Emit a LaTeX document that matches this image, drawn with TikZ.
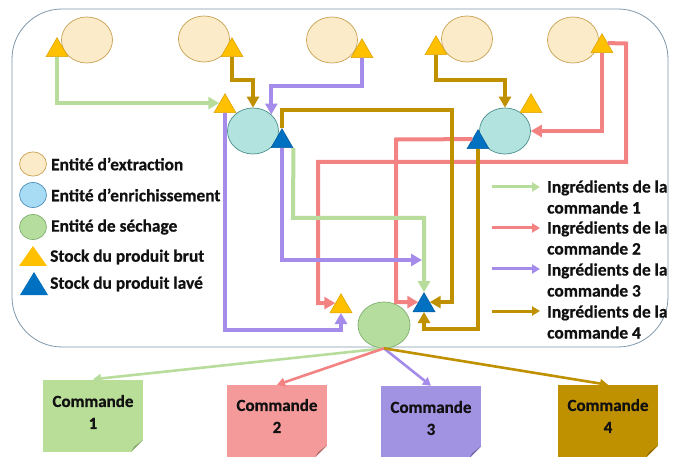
\documentclass[tikz,border=0pt]{standalone}
\usepackage{fontspec}
\setmainfont{Carlito}[BoldFeatures={FakeBold=0.6}]
\usetikzlibrary{shapes.geometric,arrows.meta,calc}
\definecolor{extf}{HTML}{FCEBC8}
\definecolor{extd}{HTML}{C8A050}
\definecolor{enrf}{HTML}{B3E3DE}
\definecolor{enrd}{HTML}{4A8E8C}
\definecolor{lenf}{HTML}{A8DCF5}
\definecolor{lend}{HTML}{4F8FB8}
\definecolor{secf}{HTML}{B5DE9E}
\definecolor{secd}{HTML}{7FAF6E}
\definecolor{yelf}{HTML}{FFC000}
\definecolor{yeld}{HTML}{D9A000}
\definecolor{bluf}{HTML}{0070C0}
\definecolor{blud}{HTML}{005A9E}
\definecolor{lgreen}{HTML}{B8DC9C}
\definecolor{lpink}{HTML}{F38383}
\definecolor{lpurp}{HTML}{A58CEB}
\definecolor{lgold}{HTML}{BF9000}
\definecolor{boxc}{HTML}{8098AA}
\definecolor{c1f}{HTML}{B8DE98}
\definecolor{c2f}{HTML}{F49A9A}
\definecolor{c3f}{HTML}{A292E2}
\definecolor{c4f}{HTML}{BF9000}
\definecolor{txt}{HTML}{111111}
\tikzset{
  extent/.style={ellipse, draw=extd, fill=extf, line width=0.7pt, minimum width=51, minimum height=46, inner sep=0},
  enrent/.style={ellipse, draw=enrd, fill=enrf, line width=0.7pt, minimum width=51, minimum height=46, inner sep=0},
  secent/.style={ellipse, draw=secd, fill=secf, line width=0.7pt, minimum width=52, minimum height=46, inner sep=0},
  ytri/.style={regular polygon, regular polygon sides=3, minimum size=25.4, inner sep=0, fill=yelf, draw=yeld, line width=0.5pt, anchor=side 2},
  btri/.style={regular polygon, regular polygon sides=3, minimum size=25.4, inner sep=0, fill=bluf, draw=blud, line width=0.5pt, anchor=side 2},
  conn/.style={line width=4pt, -{Triangle[length=11pt,width=12pt]}},
  legarr/.style={line width=3pt, -{Triangle[length=8pt,width=9pt]}},
  cmdarr/.style={line width=2.6pt, -{Triangle[length=8pt,width=9pt]}},
  cbox/.style={rectangle, minimum width=100, minimum height=72, inner sep=0},
  ctext/.style={align=center, text=txt, font=\bfseries\fontsize{17}{22}\selectfont},
  legtxt/.style={anchor=west, text=txt, align=left, inner sep=0, font=\bfseries\fontsize{17.4}{21}\selectfont},
}
\begin{document}
\begin{tikzpicture}[x=1pt,y=-1pt]
\useasboundingbox (0,0) rectangle (675,457);
\fill[white] (0,0) rectangle (675,457);
\draw[boxc, line width=0.8pt, rounded corners=50pt] (12,9) rectangle (668,347);

% extraction entities
\node[extent] (ex1) at (87,40) {};
\node[extent] (ex2) at (204,39) {};
\node[extent] (ex3) at (332,40) {};
\node[extent] (ex4) at (467,39) {};
\node[extent] (ex5) at (573,40) {};
% enrichment entities
\node[enrent] (e1) at (253,131) {};
\node[enrent] (e2) at (505,131) {};
% drying entity
\node[secent] (eD) at (384,325) {};

% stocks
\node[ytri] (t1) at (57,57) {};
\node[ytri] (t2) at (232,57) {};
\node[ytri] (t3) at (362,58) {};
\node[ytri] (t4) at (436,55) {};
\node[ytri] (t5) at (602,53) {};
\node[ytri] (ty1) at (225,113) {};
\node[btri] (tb1) at (282,148) {};
\node[ytri] (ty2) at (531,113) {};
\node[btri] (tb2) at (478,149) {};
\node[ytri] (tyD) at (341,313) {};
\node[btri] (tbD) at (424,312) {};

\coordinate (p3end) at (422,260);

% connectors
\draw[conn, lpink] (t5.side 3) -- (626,43.5) |- (318,162) |- (tyD.side 1);
\draw[conn, lpink] (t5.side 2) |- (e2.east);
\draw[conn, lpink] (tb2.side 1) -- (396,139.5) |- (tbD.side 1);
\draw[conn, lgreen] (t1.side 2) |- (ty1.side 1);
\draw[conn, lgreen] (tb1.corner 3) -- (293,218) -| (tbD.corner 1);
\draw[conn, lpurp] (t3.side 2) -- (362,86) -| (e1.42);
\draw[conn, lpurp] (tb1.side 2) |- (p3end);
\draw[conn, lpurp] (ty1.side 2) -- (225,330) -| (tyD.side 2);
\draw[conn, lgold] (t2.side 2) -- (232,80) -| (e1.north);
\draw[conn, lgold] (tb1.corner 1) -- (282,110) -- (452,110) |- (tbD.side 3);
\draw[conn, lgold] (t4.side 2) -- (436,80) -| (e2.north);
\draw[conn, lgold] (tb2.side 2) -- (478,329) -| (tbD.side 2);

% legend left
\node[ellipse, draw=extd, fill=extf, line width=0.7pt, minimum width=27, minimum height=24, inner sep=0] (lg1) at (33,164) {};
\node[ellipse, draw=lend, fill=lenf, line width=0.7pt, minimum width=27, minimum height=25, inner sep=0] (lg2) at (33,195) {};
\node[ellipse, draw=secd, fill=secf, line width=0.7pt, minimum width=27, minimum height=25, inner sep=0] (lg3) at (33,227) {};
\fill[yelf] (19,266) -- (47,266) -- (33,246) -- cycle;
\fill[bluf] (20,295) -- (48,295) -- (34,272) -- cycle;
\node[legtxt] (lt1) at (51,164) {Entité d’extraction};
\node[legtxt] (lt2) at (51,195) {Entité d’enrichissement};
\node[legtxt] (lt3) at (51,227) {Entité de séchage};
\node[legtxt] (lt4) at (50,257) {Stock du produit brut};
\node[legtxt] (lt5) at (50,284) {Stock du produit lavé};

% legend right
\coordinate (la1) at (492,187); \coordinate (lb1) at (540,187);
\coordinate (la2) at (492,228); \coordinate (lb2) at (540,228);
\coordinate (la3) at (492,269); \coordinate (lb3) at (540,269);
\coordinate (la4) at (492,311); \coordinate (lb4) at (540,311);
\draw[legarr, lgreen] (la1) -- (lb1);
\draw[legarr, lpink] (la2) -- (lb2);
\draw[legarr, lpurp] (la3) -- (lb3);
\draw[legarr, lgold] (la4) -- (lb4);
\node[legtxt] (r1) at (547,197) {Ingrédients de la\\commande 1};
\node[legtxt] (r2) at (547,238) {Ingrédients de la\\commande 2};
\node[legtxt] (r3) at (547,280) {Ingrédients de la\\commande 3};
\node[legtxt] (r4) at (547,322) {Ingrédients de la\\commande 4};

% commandes
\node[cbox, fill=c1f] (c1) at (93,415.5) {};
\node[cbox, fill=c2f] (c2) at (277,421) {};
\node[cbox, fill=c3f] (c3) at (431,422) {};
\node[cbox, fill=c4f] (c4) at (608,421) {};
\foreach \c/\f in {c1/c1f, c2/c2f, c3/c3f, c4/c4f}{
  \fill[white] ($(\c.south east)+(-12,0.5)$) -- ($(\c.south east)+(0.5,0.5)$) -- ($(\c.south east)+(0.5,-12)$) -- cycle;
  \fill[\f!70!black] ($(\c.south east)+(-12,0)$) -- ($(\c.south east)+(0,-12)$) -- ($(\c.south east)+(-9,-5)$) -- cycle;
}
\node[ctext] (c1t) at (93,412) {Commande\\1};
\node[ctext] (c2t) at (277,416) {Commande\\2};
\node[ctext] (c3t) at (431,418) {Commande\\3};
\node[ctext] (c4t) at (608,416) {Commande\\4};

\draw[cmdarr, lgreen] (eD.south) -- (c1.north);
\draw[cmdarr, lpink] (eD.south) -- (c2.north);
\draw[cmdarr, lpurp] (eD.south) -- (c3.north);
\draw[cmdarr, lgold] (eD.south) -- (c4.north);
\end{tikzpicture}
\end{document}
